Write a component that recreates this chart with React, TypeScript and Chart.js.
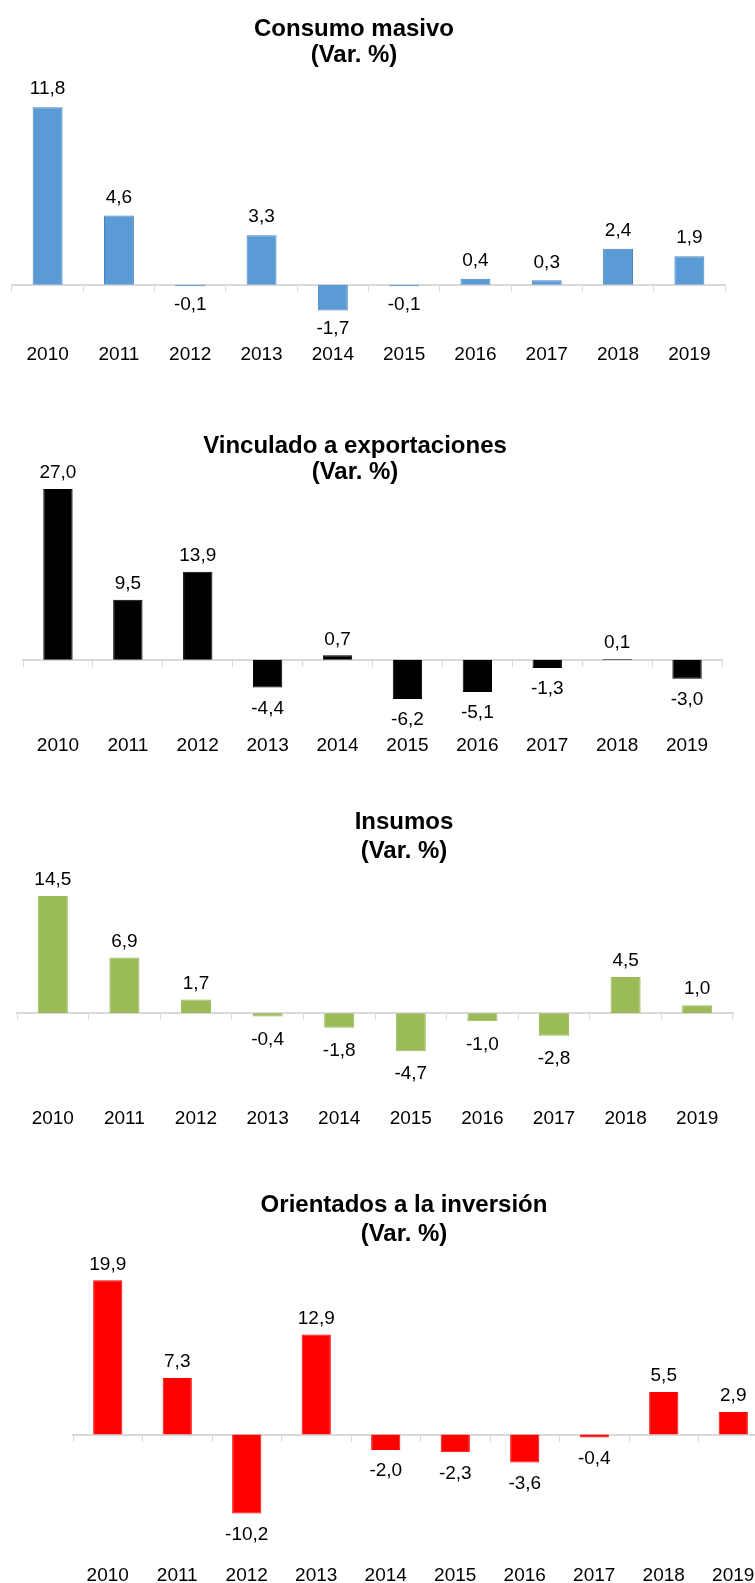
import React, { useEffect, useRef } from 'react';
import { Chart, registerables } from 'chart.js';

Chart.register(...registerables);

// ---------- data ----------
const years = ['2010', '2011', '2012', '2013', '2014', '2015', '2016', '2017', '2018', '2019'];
const consumoMasivo = [11.8, 4.6, -0.1, 3.3, -1.7, -0.1, 0.4, 0.3, 2.4, 1.9];
const vinculadoExportaciones = [27.0, 9.5, 13.9, -4.4, 0.7, -6.2, -5.1, -1.3, 0.1, -3.0];
const insumos = [14.5, 6.9, 1.7, -0.4, -1.8, -4.7, -1.0, -2.8, 4.5, 1.0];
const orientadosInversion = [19.9, 7.3, -10.2, 12.9, -2.0, -2.3, -3.6, -0.4, 5.5, 2.9];

const titleConsumo = ['Consumo masivo', '(Var. %)'];
const titleVinculado = ['Vinculado a exportaciones', '(Var. %)'];
const titleInsumos = ['Insumos', '(Var. %)'];
const titleInversion = ['Orientados a la inversión', '(Var. %)'];

const FONT = "'Liberation Sans', Arial, Helvetica, sans-serif";
const fmt = (v: number) => v.toFixed(1).replace('.', ',');

const titlePlugin = {
  id: 'blockTitle',
  afterDraw(chart: any, _args: any, opts: any) {
    const ctx = chart.ctx;
    ctx.save();
    ctx.font = `bold 24px ${FONT}`;
    ctx.fillStyle = '#000';
    ctx.textAlign = 'center';
    ctx.textBaseline = 'middle';
    (opts.lines || []).forEach((t: string, i: number) => ctx.fillText(t, opts.x, opts.y[i]));
    ctx.restore();
  },
};

const valueLabelPlugin = {
  id: 'valueLabels',
  afterDatasetsDraw(chart: any, _args: any, opts: any) {
    const ctx = chart.ctx;
    const meta = chart.getDatasetMeta(0);
    const data = chart.data.datasets[0].data as number[];
    ctx.save();
    ctx.font = `19px ${FONT}`;
    ctx.fillStyle = '#000';
    ctx.textAlign = 'center';
    ctx.textBaseline = 'middle';
    meta.data.forEach((el: any, i: number) => {
      const v = data[i];
      const y = v >= 0 ? el.y - opts.above : el.y + opts.below;
      ctx.fillText(fmt(v), el.x, y);
    });
    ctx.restore();
  },
};

type BlockProps = {
  values: number[];
  color: string;
  borderColor: string;
  title: string[];
  top: number;
  width: number;
  height: number;
  padTop: number;
  padLeft: number;
  padRight: number;
  axisHeight: number;
  min: number;
  max: number;
  tickPad: number;
  titleX: number;
  titleY: number[];
  above: number;
  below: number;
};

function BarBlock(p: BlockProps) {
  const ref = useRef<HTMLCanvasElement | null>(null);
  useEffect(() => {
    if (!ref.current) return;
    const chart = new Chart(ref.current, {
      type: 'bar',
      data: {
        labels: years,
        datasets: [
          {
            data: p.values,
            backgroundColor: p.color,
            borderColor: p.borderColor,
            borderWidth: 1,
            barPercentage: 0.42,
            categoryPercentage: 1,
          },
        ],
      },
      options: {
        responsive: false,
        animation: false,
        devicePixelRatio: 1,
        layout: { padding: { top: p.padTop, left: p.padLeft, right: p.padRight, bottom: 0 } },
        plugins: {
          legend: { display: false },
          tooltip: { enabled: false },
          title: { display: false },
          blockTitle: { lines: p.title, x: p.titleX, y: p.titleY },
          valueLabels: { above: p.above, below: p.below },
        } as any,
        scales: {
          y: { display: false, min: p.min, max: p.max },
          x: {
            type: 'category',
            position: { y: 0 } as any,
            offset: true,
            ticks: { display: false },
            grid: {
              offset: true,
              drawOnChartArea: false,
              drawTicks: true,
              tickLength: 6,
              color: '#d9d9d9',
              lineWidth: 1,
            },
            border: { display: true, color: '#d9d9d9', width: 2 },
          },
          x2: {
            type: 'category',
            position: 'bottom',
            offset: true,
            grid: { display: false, drawTicks: false },
            border: { display: false },
            ticks: {
              color: '#000',
              padding: p.tickPad,
              font: { family: FONT, size: 19 },
              maxRotation: 0,
              autoSkip: false,
            },
            afterFit: (scale: any) => {
              scale.height = p.axisHeight;
            },
          },
        } as any,
      },
      plugins: [titlePlugin as any, valueLabelPlugin as any],
    });
    return () => chart.destroy();
  }, []);
  return (
    <canvas
      ref={ref}
      width={p.width}
      height={p.height}
      style={{ position: 'absolute', left: 0, top: p.top, width: p.width, height: p.height }}
    />
  );
}

export default function App() {
  return (
    <div
      style={{
        position: 'fixed',
        left: 0,
        top: 0,
        width: 755,
        height: 1583,
        overflow: 'hidden',
        background: '#fff',
      }}
    >
      <BarBlock
        values={consumoMasivo}
        color="#5B9BD5"
        borderColor="#4A85C0"
        title={titleConsumo}
        top={0}
        width={755}
        height={380}
        padTop={74}
        padLeft={12}
        padRight={30}
        axisHeight={50}
        min={-3}
        max={14}
        tickPad={13}
        titleX={354}
        titleY={[29, 55]}
        above={18}
        below={18}
      />
      <BarBlock
        values={vinculadoExportaciones}
        color="#000000"
        borderColor="#000000"
        title={titleVinculado}
        top={380}
        width={755}
        height={393}
        padTop={90}
        padLeft={23}
        padRight={33}
        axisHeight={50}
        min={-10}
        max={30}
        tickPad={11}
        titleX={355}
        titleY={[66, 92]}
        above={16}
        below={21}
      />
      <BarBlock
        values={insumos}
        color="#9BBB59"
        borderColor="#9BBB59"
        title={titleInsumos}
        top={780}
        width={755}
        height={364}
        padTop={104}
        padLeft={17}
        padRight={22}
        axisHeight={50}
        min={-10}
        max={16}
        tickPad={13}
        titleX={404}
        titleY={[42, 71]}
        above={16}
        below={23}
      />
      <BarBlock
        values={orientadosInversion}
        color="#FF0000"
        borderColor="#FF0000"
        title={titleInversion}
        top={1144}
        width={780}
        height={449}
        padTop={120}
        padLeft={73}
        padRight={12}
        axisHeight={50}
        min={-14}
        max={22}
        tickPad={21}
        titleX={404}
        titleY={[61, 90]}
        above={16}
        below={21}
      />
    </div>
  );
}
